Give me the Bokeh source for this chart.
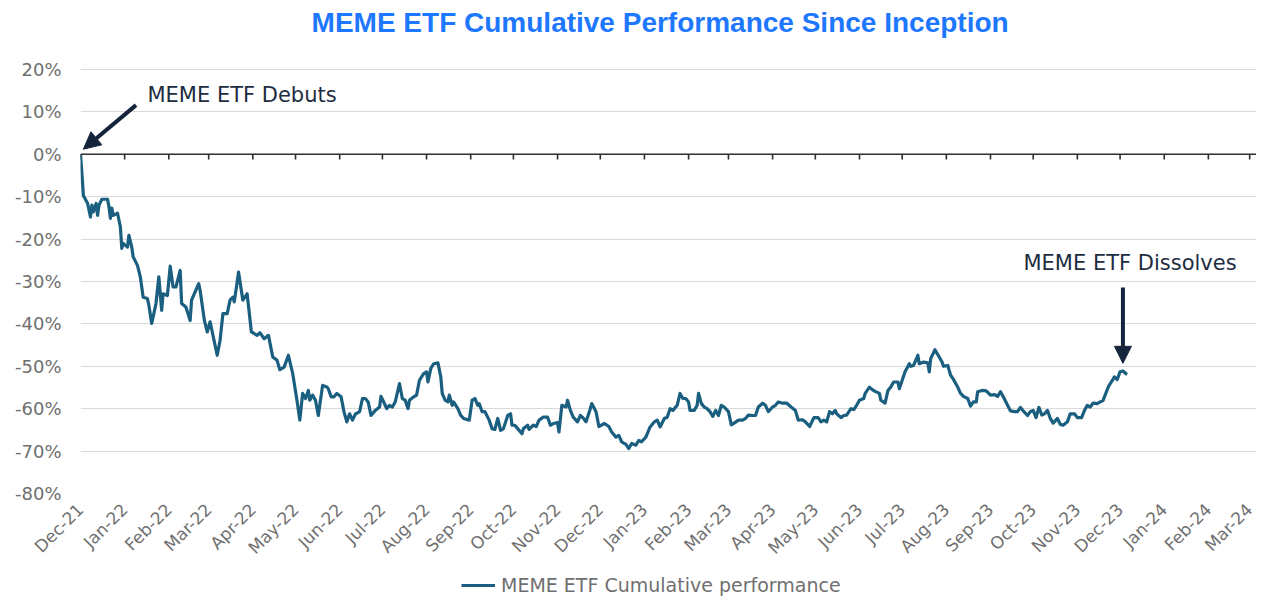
import math
import pandas as pd
from bokeh.plotting import figure
from bokeh.layouts import column
from bokeh.models import (Range1d, FixedTicker, PrintfTickFormatter, Span, Arrow,
                          NormalHead, Label, Legend, LegendItem)
from bokeh.embed import file_html
from bokeh.resources import INLINE

# ---------------- data ----------------
inception = "2021-12-08"

# calendar days since inception
days = [0, 1, 2, 5, 7, 8, 9, 11, 12, 13, 15, 19, 20, 21, 22, 23, 26, 28, 29, 30,
        33, 34, 36, 37, 40, 42, 44, 47, 48, 50, 53, 55, 57, 58, 61, 63, 65, 67, 70, 71,
        74, 77, 78, 83, 84, 87, 89, 91, 96, 98, 100, 103, 105, 107, 108, 111, 114, 117, 120, 124,
        126, 129, 132, 135, 138, 140, 143, 146, 149,
        152, 154, 156, 158, 160, 161, 163, 165, 167, 170, 173, 174, 176, 178, 180, 183, 185, 187, 189, 191,
        193, 196, 198, 200, 202, 204, 207, 210, 211, 214, 215, 217, 219, 221, 224, 226, 228, 230, 231, 234,
        236, 238, 241, 243, 244, 246, 248, 251, 253, 254, 256, 258, 259, 261, 262, 265, 267, 269, 273, 275,
        277, 279, 280, 282, 284, 287, 289, 291, 293, 295, 297, 300, 302, 303, 305, 307, 310, 311, 314, 315,
        318, 320, 322, 325, 328, 330,
        332, 335, 336, 338, 341, 342, 344, 346, 349, 351, 353, 355, 358, 359, 362, 364, 368, 371, 373, 376,
        378, 380, 383, 385, 387, 390, 392, 394, 397, 400, 403, 405, 407, 410, 412, 414, 416, 419, 421, 423,
        425, 427, 428, 431, 433, 434, 436, 438, 440, 442, 444, 446, 448, 450, 452, 455, 457, 459, 462, 465,
        467, 469, 472, 474, 476, 479, 481, 483, 486, 488, 490, 493, 496, 499, 502, 504, 507, 509,
        512, 515, 518, 520, 522, 524, 526, 528, 530, 531, 534, 536, 538, 541, 543, 545, 547, 550, 551, 554,
        556, 558, 561, 562, 565, 567, 569, 571, 574, 575, 577, 579, 582, 583, 585, 588, 589, 592, 595, 596,
        597, 600, 603, 605, 606, 609, 611, 613, 616, 618, 620, 623, 625, 627, 629, 630, 633, 636, 639, 642,
        644, 646, 648, 651, 653, 656, 658, 660, 662, 665, 667, 669, 671, 673, 675, 677, 679, 681, 683, 686,
        688, 690, 693, 695, 698, 700, 703, 705, 707, 709, 711, 714, 716, 718, 721, 722, 725, 726, 728, 730,
        732, 734, 735]

# cumulative performance, %
perf = [0, -4.5, -9.7, -11.6, -14.8, -12.0, -13.6, -11.6, -14.4, -12.0,
        -10.6, -10.6, -12.4, -15.1, -12.7, -14.4, -13.9, -17.1, -22.2, -21.0,
        -21.9, -19.1, -21.9, -24.2, -26.2, -28.9, -33.7, -34.0, -35.6, -39.9,
        -35.2, -28.9, -36.8, -32.9, -33.3, -26.4, -31.3, -31.3, -27.4, -35.2,
        -36.0, -39.2, -34.4, -30.5, -32.1, -39.2, -41.9, -39.5, -47.4, -43.9,
        -37.6, -37.6, -34.4, -33.7, -34.8, -27.8, -34.4, -32.9, -41.9, -42.7,
        -42.1, -43.5, -42.7, -47.8, -48.6, -50.8, -50.2, -47.4, -51.7,
        -58.0, -62.7, -56.4, -57.6, -55.7, -58.0, -56.8, -58.0, -61.6, -54.5,
        -54.9, -55.3, -57.2, -57.2, -56.4, -57.2, -60.7, -63.1, -61.2, -62.7,
        -61.3, -60.7, -57.6, -57.6, -58.4, -61.6, -60.4, -59.6, -57.1, -59.2,
        -60.0, -59.2, -59.6, -58.4, -54.1, -57.6, -58.0, -60.0, -58.0, -57.2,
        -56.8, -53.3, -51.7, -51.3, -53.7, -50.5, -49.4, -49.2, -52.5, -56.4,
        -58.0, -58.4, -56.8, -59.2, -58.4, -60.0, -61.6, -62.3, -62.7, -58.0,
        -57.6, -59.2, -58.8, -60.7, -60.7, -62.7, -64.7, -64.9, -62.3, -65.1,
        -64.7, -61.6, -61.2, -63.9, -63.9, -64.7, -65.9, -64.7, -63.9, -64.9,
        -63.9, -64.2, -62.7, -62.0, -62.0, -63.9,
        -63.5, -63.3, -65.5, -59.2, -59.6, -58.0, -60.4, -62.0, -63.1, -61.6,
        -62.2, -63.1, -60.0, -58.8, -60.7, -64.2, -63.5, -64.2, -65.5, -66.7,
        -66.3, -67.8, -68.4, -69.4, -68.2, -68.6, -67.5, -67.8, -66.7, -64.3,
        -63.1, -62.7, -64.3, -62.3, -62.0, -60.0, -60.4, -59.2, -56.4, -57.6,
        -57.6, -58.4, -60.4, -60.4, -59.2, -56.4, -58.8, -59.6, -60.0, -60.7,
        -61.8, -60.4, -61.6, -59.2, -59.6, -60.7, -63.8, -63.4, -62.7, -62.7,
        -62.3, -61.5, -61.6, -61.6, -59.6, -58.7, -59.2, -60.7, -59.6, -59.2,
        -58.4, -58.7, -58.7, -59.6, -60.4, -62.7, -62.6, -63.1,
        -64.2, -62.1, -62.1, -63.1, -62.7, -63.1, -60.7, -61.2, -60.4, -61.2,
        -62.1, -61.6, -61.5, -60.0, -60.2, -59.2, -58.0, -57.6, -56.4, -54.9,
        -55.5, -55.9, -56.4, -58.0, -58.7, -55.7, -54.9, -53.7, -53.7, -55.3,
        -53.3, -51.3, -49.4, -50.0, -49.8, -47.4, -49.4, -49.0, -49.2, -51.3,
        -48.2, -46.1, -47.8, -49.0, -50.0, -49.8, -52.1, -53.1, -54.9, -56.4,
        -57.1, -57.6, -59.4, -58.4, -58.4, -56.0, -55.7, -55.8, -56.8, -56.7,
        -57.1, -56.0, -57.2, -59.2, -60.5, -60.7, -60.7, -59.7, -60.5, -61.6,
        -60.7, -60.4, -62.1, -59.7, -61.5, -61.2, -60.4, -62.3, -63.4, -62.3,
        -63.7, -63.9, -63.1, -61.2, -61.2, -62.1, -62.1, -60.4, -59.2, -59.6,
        -58.7, -58.8, -58.4, -58.1, -55.5, -54.7, -53.1, -52.5, -53.1, -51.3,
        -51.1, -51.7, -51.9]

tick_labels = ["Dec-21", "Jan-22", "Feb-22", "Mar-22", "Apr-22", "May-22", "Jun-22",
               "Jul-22", "Aug-22", "Sep-22", "Oct-22", "Nov-22", "Dec-22", "Jan-23",
               "Feb-23", "Mar-23", "Apr-23", "May-23", "Jun-23", "Jul-23", "Aug-23",
               "Sep-23", "Oct-23", "Nov-23", "Dec-23", "Jan-24", "Feb-24", "Mar-24"]

y_ticks = [-80, -70, -60, -50, -40, -30, -20, -10, 0, 10, 20]

series_name = "MEME ETF Cumulative performance"
title_text = "MEME ETF Cumulative Performance Since Inception"

# ---------------- derived ----------------
t0 = pd.Timestamp(inception)
dates = [t0 + pd.Timedelta(days=d) for d in days]


def ms(ts):
    return ts.value / 1e6


def day_ms(d):
    return ms(t0 + pd.Timedelta(days=d))


tick_dates = [t0 + pd.DateOffset(months=i) for i in range(len(tick_labels))]
tick_ms = [ms(t) for t in tick_dates]

LINE = "#1b5f80"
NAVY = "#14253b"
GREY = "#6f6f6f"
FONT = "DejaVu Sans"
W = 1256

# main chart: the frame runs from the very top so the title can sit in it
p = figure(width=W, height=572, x_axis_type="datetime", title=None,
           x_range=Range1d(day_ms(0), day_ms(825.8)), y_range=Range1d(-80, 36.27),
           output_backend="svg", toolbar_location=None,
           min_border_left=80, min_border_right=0, min_border_top=0, min_border_bottom=79)
p.outline_line_color = None
p.background_fill_color = "white"
p.border_fill_color = "white"

# x axis
xa = p.xaxis[0]
xa.ticker = FixedTicker(ticks=tick_ms)
xa.major_label_overrides = {t: lab for t, lab in zip(tick_ms, tick_labels)}
xa.major_label_orientation = math.pi / 4
xa.axis_line_color = None
xa.major_tick_line_color = None
xa.minor_tick_line_color = None
xa.major_label_standoff = 7
xa.major_label_text_font = FONT
xa.major_label_text_font_size = "17px"
xa.major_label_text_color = GREY

# y axis
ya = p.yaxis[0]
ya.ticker = FixedTicker(ticks=y_ticks)
ya.formatter = PrintfTickFormatter(format="%d%%")
ya.axis_line_color = None
ya.major_tick_line_color = None
ya.minor_tick_line_color = None
ya.major_label_standoff = 13
ya.major_label_text_font = FONT
ya.major_label_text_font_size = "18px"
ya.major_label_text_color = GREY

p.xgrid.grid_line_color = None
p.ygrid.ticker = FixedTicker(ticks=y_ticks)
p.ygrid.grid_line_color = "#d9d9d9"
p.ygrid.grid_line_width = 1.2

# zero line with month tick marks
p.add_layout(Span(location=0, dimension="width", line_color="#2f2f2f", line_width=1.6))
p.segment(x0=tick_dates, y0=0, x1=tick_dates, y1=-1.2, line_color="#2f2f2f", line_width=1.6)

# series
r = p.line(dates, perf, line_color=LINE, line_width=3.2, line_join="round")

# title
p.add_layout(Label(x=day_ms(407), y=31.1, text=title_text, text_font="Liberation Sans",
                   text_font_style="bold", text_font_size="28px", text_color="#1e78ff",
                   text_align="center", text_baseline="middle"))

# annotations
p.add_layout(Arrow(end=NormalHead(size=17, fill_color=NAVY, line_color=NAVY),
                   x_start=day_ms(39), y_start=11.6, x_end=day_ms(2), y_end=1.2,
                   line_color=NAVY, line_width=4))
p.add_layout(Label(x=day_ms(47), y=13.9, text="MEME ETF Debuts", text_font=FONT,
                   text_font_size="21px", text_color="#1d2c40", text_baseline="middle",
                   text_align="left"))
p.add_layout(Arrow(end=NormalHead(size=17, fill_color=NAVY, line_color=NAVY),
                   x_start=day_ms(732), y_start=-31.4, x_end=day_ms(732), y_end=-49.3,
                   line_color=NAVY, line_width=4))
p.add_layout(Label(x=day_ms(737), y=-25.7, text="MEME ETF Dissolves", text_font=FONT,
                   text_font_size="21px", text_color="#1d2c40", text_baseline="middle",
                   text_align="center"))

# legend strip under the chart
lg = figure(width=W, height=24, title=None, x_axis_location=None, y_axis_location=None,
            x_range=Range1d(0, 1), y_range=Range1d(1000, 1001),
            output_backend="svg", toolbar_location=None, min_border=0)
lg.outline_line_color = None
lg.grid.visible = False
lg.background_fill_color = "white"
lg.border_fill_color = "white"
r_leg = lg.line(days, perf, line_color=LINE, line_width=3.2)
legend = Legend(items=[LegendItem(label=series_name, renderers=[r_leg])],
                location=(381, 0), orientation="horizontal",
                glyph_width=34, glyph_height=20, label_standoff=6, padding=0, margin=0,
                label_text_font=FONT, label_text_font_size="19px", label_text_color=GREY,
                border_line_color=None, background_fill_alpha=0)
lg.add_layout(legend)

layout = column(p, lg, spacing=0)
open("out.html", "w").write(file_html(layout, INLINE))
